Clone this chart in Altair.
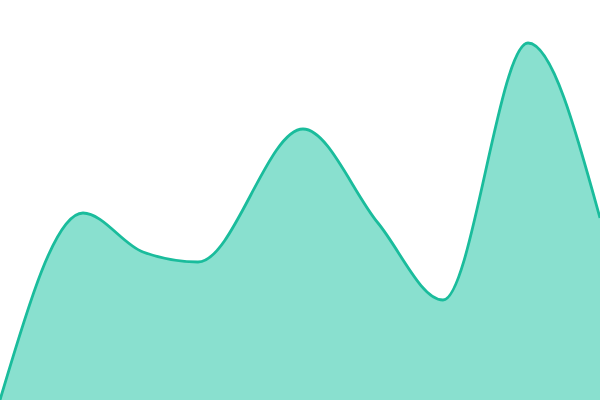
import altair as alt
import pandas as pd

xs = [0, 83, 143, 198, 303, 378, 443, 528, 600]
ys = [0, 187, 148, 138, 271, 177, 100, 357, 182]

df = pd.DataFrame({"x": xs, "y": ys})

chart = alt.Chart(df).mark_area(
    interpolate="monotone",
    color="#89e0cf",
    fillOpacity=1,
    line={"color": "#1abc9c", "strokeWidth": 2.8},
).encode(
    x=alt.X("x:Q", scale=alt.Scale(domain=[0, 600], nice=False, zero=False), axis=None),
    y=alt.Y("y:Q", scale=alt.Scale(domain=[0, 400], nice=False), axis=None),
).properties(
    width=600, height=400, padding=0, autosize=alt.AutoSizeParams(type="none")
).configure_view(stroke=None)

chart.save("out.html", embed_options={"renderer": "svg", "actions": False})

with open("out.html") as f:
    html = f.read()
html = html.replace("<head>", "<head><style>body{margin:0;}</style>", 1)
with open("out.html", "w") as f:
    f.write(html)
